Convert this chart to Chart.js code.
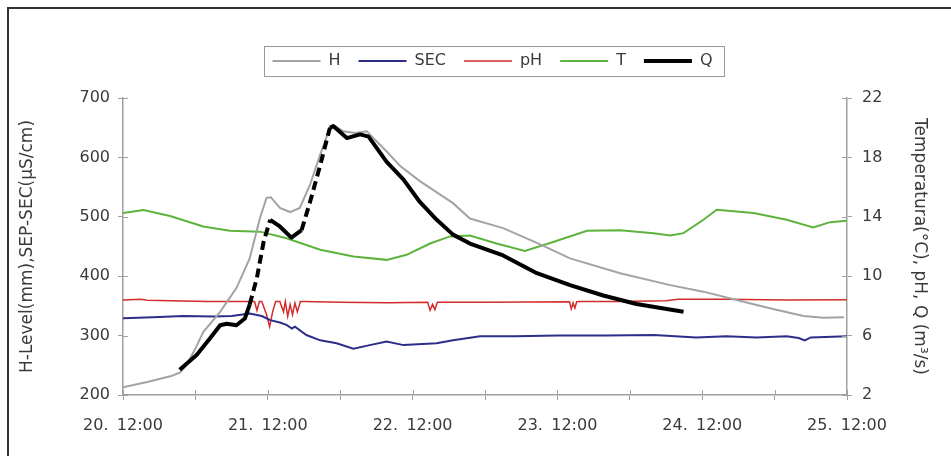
<!DOCTYPE html>
<html>
<head>
<meta charset="utf-8">
<script src="https://cdn.jsdelivr.net/npm/chart.js@4.4.0/dist/chart.umd.min.js"></script>
<style>
  body { margin: 0; background: #fff; }
  #wrap { position: relative; width: 951px; height: 456px; }
  #frame { position: absolute; left: 7px; top: 7px; right: 0; bottom: 0;
           border-left: 2px solid #333; border-top: 2px solid #333; pointer-events: none; }
</style>
</head>
<body>
<div id="wrap">
  <canvas id="chart" width="951" height="456"></canvas>
  <div id="frame"></div>
</div>
<script>
// hours counted from 20. 12:00
var dayLabels = ['20. \u200912:00', '21. \u200912:00', '22. \u200912:00', '23. \u200912:00', '24. \u200912:00', '25. \u200912:00'];

// H - water level (mm), left axis
var hHours = [0, 4, 8, 9.5, 10.5, 12, 13.3, 16.1, 18.8, 21, 22.7, 23.8, 24.5, 26, 27.7, 29.3, 31, 32.7, 34.3, 34.8, 36.5, 38.5, 40.4, 43.7, 46, 49.2, 54.7, 57.5, 63, 68.6, 74.1, 82.4, 90.7, 96.2, 101.7, 107.2, 112.8, 116.1, 119.5];
var hValues = [213, 222, 232, 238, 250, 278, 306, 340, 380, 430, 498, 532, 533, 515, 508, 515, 554, 605, 650, 655, 644, 641, 644, 610, 585, 560, 523, 497, 481, 456, 430, 405, 385, 374, 360, 346, 333, 330, 331];

// SEC - conductivity (uS/cm), left axis
var secHours = [0, 5, 10, 15, 18, 21, 23, 24.4, 26, 27.1, 28, 28.5, 30.4, 32.7, 35.4, 38.2, 40.9, 43.7, 46.5, 52, 54.7, 59.2, 65, 72, 80, 88, 95, 100, 105, 110, 112, 113, 114, 120];
var secValues = [329, 331, 333, 332, 333, 337, 333, 326, 322, 318, 312, 315, 301, 292, 287, 278, 284, 290, 284, 287, 292, 299, 299, 300, 300, 301, 297, 299, 297, 299, 296, 292, 297, 299];

// pH, right axis
var phHours = [0, 3, 4, 8, 14, 20, 21.8, 22.2, 22.6, 23, 23.8, 24.3, 24.8, 25.3, 26, 26.6, 26.9, 27.3, 27.7, 28.1, 28.5, 28.9, 29.4, 30, 36, 44, 50.5, 50.9, 51.3, 51.7, 52.1, 60, 74, 74.3, 74.6, 74.9, 75.2, 75.6, 82, 90, 92, 100, 110, 120];
var phValues = [8.4, 8.45, 8.38, 8.35, 8.3, 8.3, 8.3, 7.7, 8.3, 8.3, 7.4, 6.6, 7.6, 8.3, 8.3, 7.6, 8.3, 7.3, 8.1, 7.4, 8.2, 7.6, 8.3, 8.3, 8.25, 8.22, 8.25, 7.7, 8.1, 7.75, 8.25, 8.25, 8.28, 7.8, 8.2, 7.85, 8.28, 8.3, 8.3, 8.35, 8.45, 8.45, 8.4, 8.42];

// T - temperature (C), right axis
var tHours = [0, 3.4, 7.8, 13.3, 17.7, 22.7, 27.1, 32.7, 38.2, 43.7, 47, 50.9, 54.2, 57.5, 61.9, 66.6, 71.3, 76.9, 82.4, 87.9, 90.7, 92.9, 96.2, 98.4, 104.5, 110, 114.4, 117.2, 120];
var tValues = [14.25, 14.45, 14.05, 13.35, 13.06, 13.0, 12.56, 11.78, 11.32, 11.1, 11.44, 12.2, 12.68, 12.74, 12.2, 11.7, 12.3, 13.06, 13.1, 12.9, 12.74, 12.9, 13.8, 14.47, 14.25, 13.8, 13.28, 13.64, 13.73];

// Q - discharge (m3/s), right axis
var qHours = [9.4, 12.2, 14.4, 16.1, 17.2, 18.8, 20.2, 21, 22.2, 23.3, 24.4, 26, 27.9, 29.6, 31, 32.7, 34.3, 34.9, 37.1, 39.3, 40.7, 43.7, 46.5, 49.2, 52, 54.7, 57.5, 63, 68.6, 74.1, 79.6, 85.1, 92.9];
var qValues = [3.7, 4.7, 5.8, 6.7, 6.8, 6.7, 7.15, 8.1, 9.9, 12.3, 13.8, 13.35, 12.6, 13.1, 15.0, 17.5, 20.0, 20.1, 19.3, 19.55, 19.4, 17.7, 16.5, 15.0, 13.8, 12.8, 12.2, 11.4, 10.2, 9.4, 8.7, 8.13, 7.6];
// stretches of Q drawn dashed
var qDashed = [[20.5, 24], [29.5, 34]];

function points(xs, ys) {
  return xs.map(function (x, i) { return { x: x, y: ys[i] }; });
}

var font = { family: 'DejaVu Sans', size: 16 };
var textColor = '#3a3a3a';
var axisColor = '#a0a0a0';

// legend taller (pushes plot down) and shifted a bit right, box around it,
// plus the inner half of the tick marks
var extras = {
  id: 'extras',
  beforeInit: function (chart) {
    var fit = chart.legend.fit;
    chart.legend.fit = function () {
      fit.call(this);
      this.height += 19;
    };
  },
  afterLayout: function (chart) {
    chart.legend.left += 17;
    chart.legend.right += 17;
  },
  afterDraw: function (chart) {
    var ctx = chart.ctx;
    var boxes = chart.legend.legendHitBoxes;
    var l = Math.min.apply(null, boxes.map(function (b) { return b.left; }));
    var r = Math.max.apply(null, boxes.map(function (b) { return b.left + b.width; }));
    var t = boxes[0].top, h = boxes[0].height;
    ctx.save();
    ctx.strokeStyle = '#999';
    ctx.lineWidth = 1;
    ctx.strokeRect(Math.round(l - 8) + 0.5, Math.round(t - 7) + 0.5, r - l + 20, h + 14);

    var a = chart.chartArea;
    ctx.strokeStyle = axisColor;
    ctx.lineWidth = 1;
    ctx.beginPath();
    chart.scales.x.ticks.forEach(function (tk) {
      var x = Math.round(chart.scales.x.getPixelForValue(tk.value)) + 0.5;
      ctx.moveTo(x, a.bottom); ctx.lineTo(x, a.bottom - 5);
    });
    chart.scales.y.ticks.forEach(function (tk) {
      var y = Math.round(chart.scales.y.getPixelForValue(tk.value)) + 0.5;
      ctx.moveTo(a.left, y); ctx.lineTo(a.left + 5, y);
    });
    chart.scales.y1.ticks.forEach(function (tk) {
      var y = Math.round(chart.scales.y1.getPixelForValue(tk.value)) + 0.5;
      ctx.moveTo(a.right, y); ctx.lineTo(a.right - 5, y);
    });
    ctx.stroke();
    ctx.restore();
  }
};

var ctx = document.getElementById('chart').getContext('2d');
var chart = new Chart(ctx, {
  type: 'line',
  data: {
    datasets: [
      { label: 'H', data: points(hHours, hValues), yAxisID: 'y', borderColor: '#a3a3a3', borderWidth: 2, order: 2 },
      { label: 'SEC', data: points(secHours, secValues), yAxisID: 'y', borderColor: '#2d2d8a', borderWidth: 2, order: 3 },
      { label: 'pH', data: points(phHours, phValues), yAxisID: 'y1', borderColor: '#d42b2b', borderWidth: 1.5, order: 4 },
      { label: 'T', data: points(tHours, tValues), yAxisID: 'y1', borderColor: '#5db33c', borderWidth: 2, order: 5 },
      {
        label: 'Q', data: points(qHours, qValues), yAxisID: 'y1', borderColor: '#000', borderWidth: 4, order: 1,
        borderJoinStyle: 'round',
        segment: {
          borderDash: function (c) {
            var x = c.p0.parsed.x;
            var dashed = qDashed.some(function (s) { return x >= s[0] && x < s[1]; });
            return dashed ? [9, 5] : undefined;
          }
        }
      }
    ]
  },
  options: {
    responsive: false,
    animation: false,
    devicePixelRatio: 1,
    elements: { point: { radius: 0 }, line: { tension: 0 } },
    layout: { padding: { top: 35, left: 0, right: 0, bottom: 0 } },
    plugins: {
      legend: {
        position: 'top',
        labels: {
          usePointStyle: true,
          pointStyle: 'line',
          pointStyleWidth: 48,
          padding: 18,
          color: textColor,
          font: font,
          sort: function (a, b) { return a.datasetIndex - b.datasetIndex; }
        }
      },
      tooltip: { enabled: false }
    },
    scales: {
      x: {
        type: 'linear', min: 0, max: 120,
        ticks: {
          stepSize: 12, autoSkip: false, maxRotation: 0, padding: 16, color: textColor, font: font,
          callback: function (v) { return v % 24 === 0 ? dayLabels[v / 24] : ''; }
        },
        grid: { drawOnChartArea: false, tickLength: 5, color: axisColor },
        border: { color: axisColor, width: 1.5 },
        afterFit: function (s) { s.height = 61; }
      },
      y: {
        position: 'left', min: 200, max: 700,
        ticks: { stepSize: 100, padding: 8, color: textColor, font: font },
        grid: { drawOnChartArea: false, tickLength: 5, color: axisColor },
        border: { color: axisColor, width: 1.5 },
        title: { display: true, text: 'H-Level(mm),SEP-SEC(\u03bcS/cm)', color: textColor,
                 font: { family: 'DejaVu Sans', size: 17 }, padding: { top: 17, bottom: 0 } },
        afterFit: function (s) { s.width = 123; }
      },
      y1: {
        position: 'right', min: 2, max: 22,
        ticks: { stepSize: 4, padding: 10, color: textColor, font: font },
        grid: { drawOnChartArea: false, tickLength: 5, color: axisColor },
        border: { color: axisColor, width: 1.5 },
        title: { display: true, text: 'Temperatura(\u00b0C), pH, Q (m\u00b3/s)', color: textColor,
                 font: { family: 'DejaVu Sans', size: 17 }, padding: { top: 21, bottom: 0 } },
        afterFit: function (s) { s.width = 104; }
      }
    }
  },
  plugins: [extras]
});
</script>
</body>
</html>
